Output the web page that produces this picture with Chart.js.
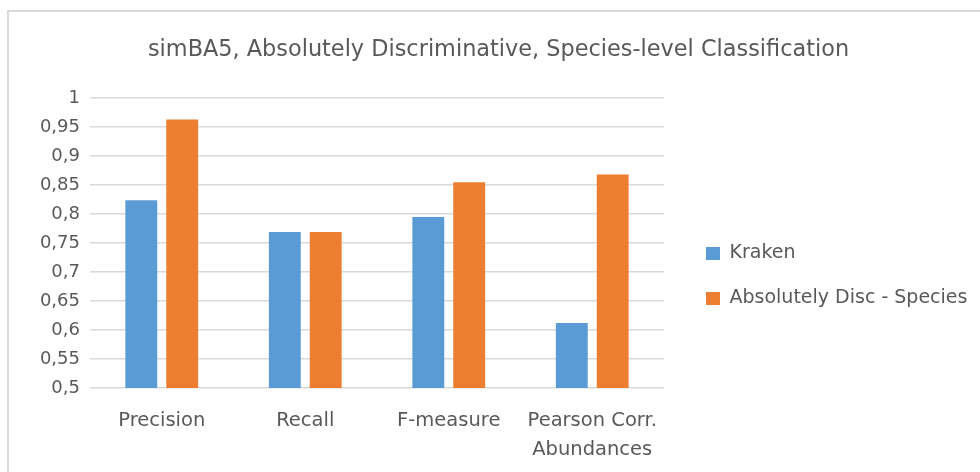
<!DOCTYPE html>
<html>
<head>
<meta charset="utf-8">
<script src="https://cdn.jsdelivr.net/npm/chart.js@4/dist/chart.umd.min.js"></script>
<style>
  html, body { margin: 0; padding: 0; background: #fff; }
  #wrap { position: relative; width: 980px; height: 472px; overflow: hidden; }
  #frame { position: absolute; left: 7px; top: 10px; width: 990px; height: 480px;
           border-left: 2px solid #d9d9d9; border-top: 2px solid #d9d9d9; }
  canvas { position: absolute; left: 0; top: 0; }
</style>
</head>
<body>
<div id="wrap">
  <div id="frame"></div>
  <canvas id="chart" width="980" height="472"></canvas>
</div>
<script>
// Chart data
const categories = ['Precision', 'Recall', 'F-measure', ['Pearson Corr.', 'Abundances']];
const krakenValues = [0.824, 0.769, 0.795, 0.612];
const absDiscValues = [0.963, 0.769, 0.855, 0.868];
const seriesNames = ['Kraken', 'Absolutely Disc - Species'];
const titleText = 'simBA5, Absolutely Discriminative, Species-level Classification';

const TEXT = '#595959';
const FONT = "'DejaVu Sans', sans-serif";
const LEGEND_W = 316;

// Excel-like legend: fixed width column, pushed off the plot and lowered
const legendTweak = {
  id: 'legendTweak',
  beforeLayout(chart) {
    const l = chart.legend;
    if (l && !l._fixed) {
      const fit = l.fit.bind(l);
      l.fit = function () { fit(); this.width = LEGEND_W; };
      l._fixed = true;
    }
  },
  afterLayout(chart) {
    const l = chart.legend;
    l.left += 16; l.right += 16;
    l.top += 40; l.bottom += 40;
  },
};

new Chart(document.getElementById('chart'), {
  type: 'bar',
  data: {
    labels: categories,
    datasets: [
      { label: seriesNames[0], data: krakenValues, backgroundColor: '#5b9bd5' },
      { label: seriesNames[1], data: absDiscValues, backgroundColor: '#ed7d31' },
    ],
  },
  options: {
    responsive: false,
    animation: false,
    categoryPercentage: 0.57,
    barPercentage: 0.78,
    layout: { padding: { left: 17, right: 0, top: 0, bottom: 0 } },
    plugins: {
      title: {
        display: true,
        text: titleText,
        color: TEXT,
        font: { family: FONT, size: 22.4, weight: 'normal', lineHeight: 1.2 },
        padding: { top: 36.5, bottom: 34.7 },
      },
      legend: {
        position: 'right',
        labels: {
          color: TEXT,
          font: { family: FONT, size: 19 },
          boxWidth: 14,
          boxHeight: 13,
          padding: 26,
        },
      },
      tooltip: { enabled: false },
    },
    scales: {
      x: {
        afterFit: (s) => { s.height = 84; },
        grid: { display: false, drawTicks: false },
        border: { display: false },
        ticks: {
          color: TEXT,
          font: { family: FONT, size: 19.5, lineHeight: 1.5 },
          padding: 18,
          maxRotation: 0,
        },
      },
      y: {
        min: 0.5,
        max: 1,
        afterFit: (s) => { s.width = 73; },
        grid: { color: '#d9d9d9', lineWidth: 1.5, drawTicks: false },
        border: { display: false },
        ticks: {
          stepSize: 0.05,
          color: TEXT,
          padding: 10,
          font: { family: FONT, size: 18 },
          callback: (v) => String(Number(v.toFixed(2))).replace('.', ','),
        },
      },
    },
  },
  plugins: [legendTweak],
});
</script>
</body>
</html>
